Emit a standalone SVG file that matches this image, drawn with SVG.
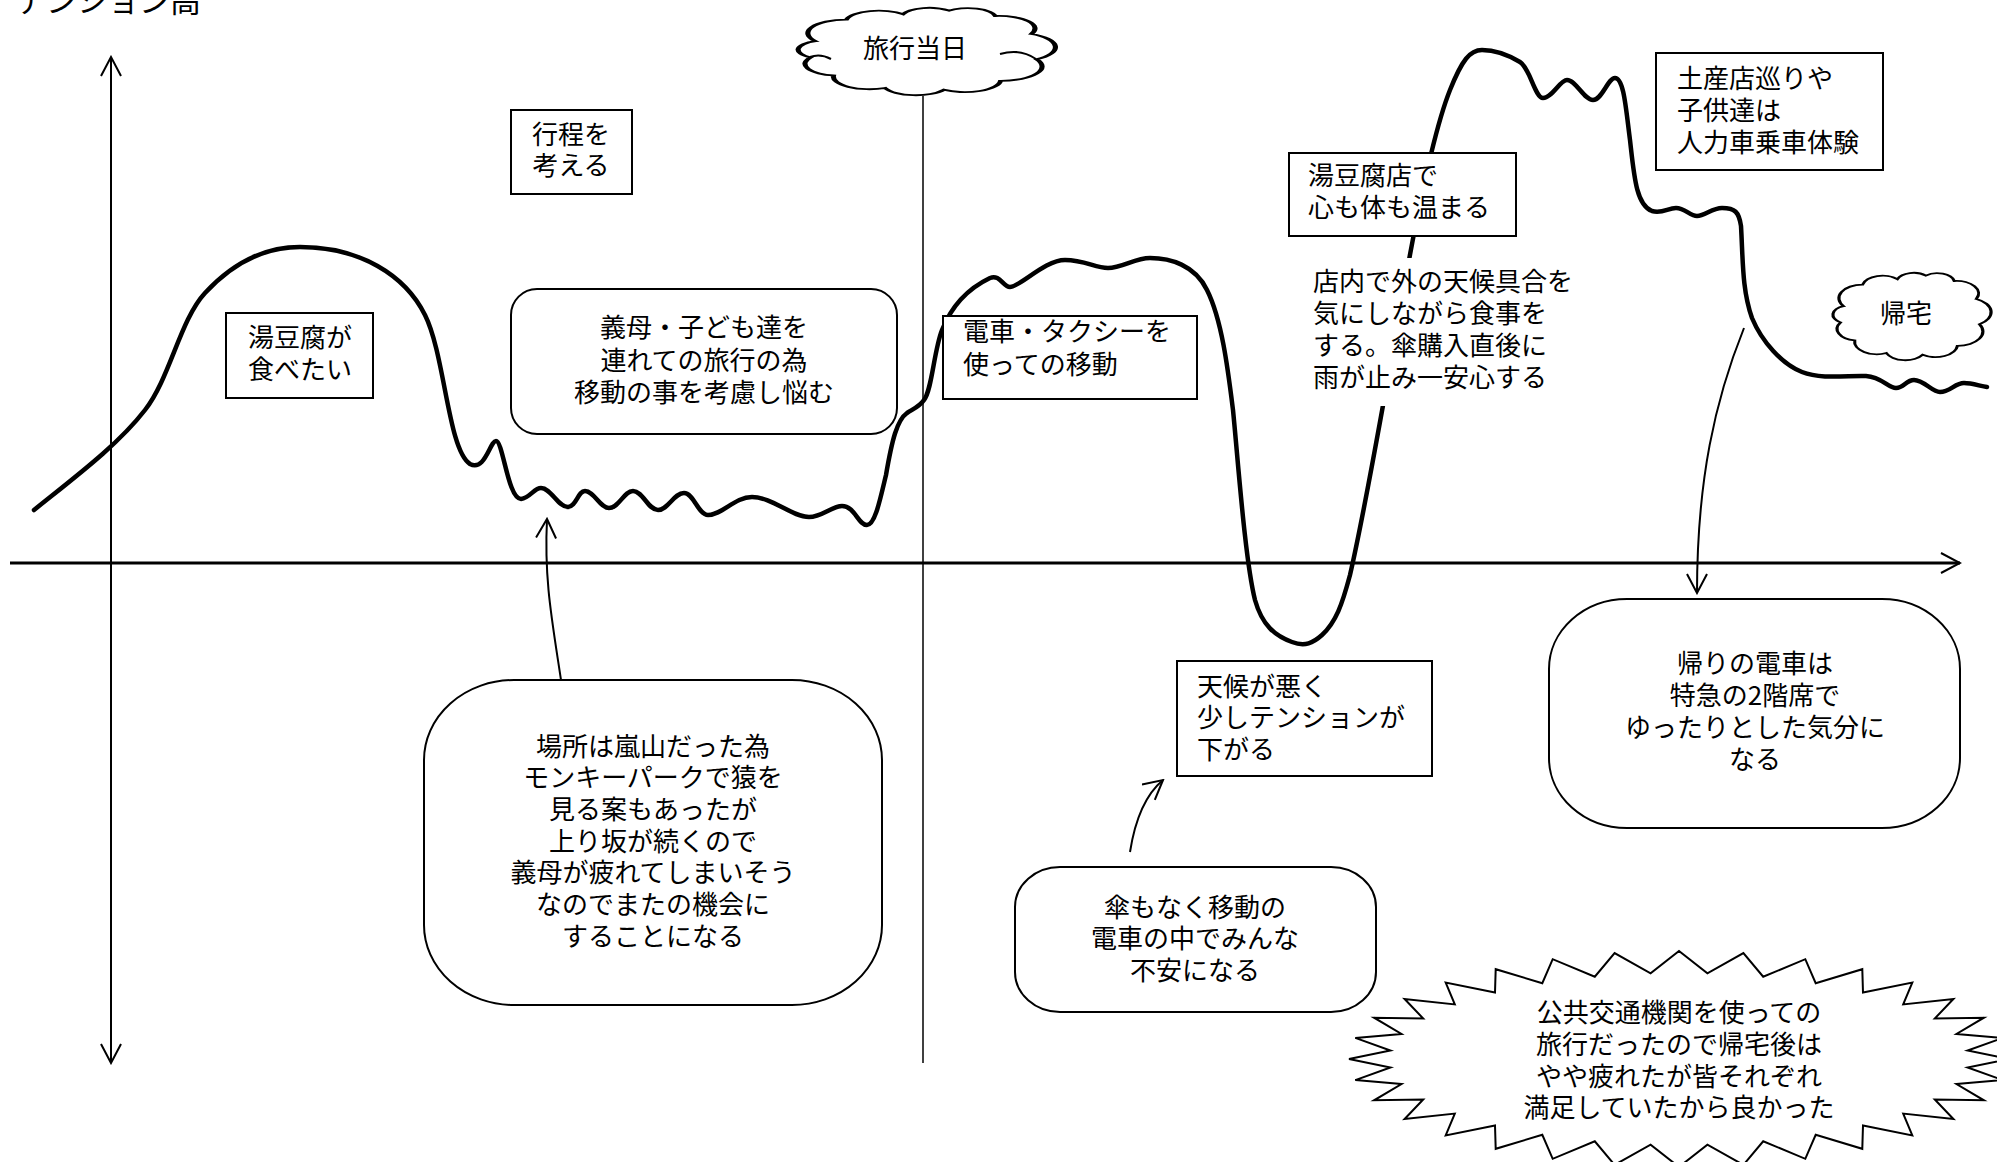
<svg xmlns="http://www.w3.org/2000/svg" width="1997" height="1162" viewBox="0 0 1997 1162">
<style>
.t{font-family:"Noto Sans CJK JP","Noto Sans",sans-serif;font-size:26px;fill:#000}
.c{text-anchor:middle}
.box{fill:#fff;stroke:#000;stroke-width:2}
.curve{fill:none;stroke:#000;stroke-width:4.5;stroke-linecap:round;stroke-linejoin:round}
.thin{fill:none;stroke:#000;stroke-width:2}
.cloud{fill:#fff;stroke:#000;stroke-width:2}
</style>
<defs>
<marker id="arr" viewBox="0 0 22 22" refX="20" refY="11" markerWidth="22" markerHeight="22" markerUnits="userSpaceOnUse" orient="auto-start-reverse">
<path d="M1,1 L20,11 L1,21" fill="none" stroke="#000" stroke-width="2"/>
</marker>
<path id="cloudShape" d="M8 38 A15 15 0 0 1 20 14 A13 13 0 0 1 42 8 A11 11 0 0 1 60 4 A11 11 0 0 1 78 10 A14 14 0 0 1 92 30 A16 16 0 0 1 94 58 A16 16 0 0 1 80 82 A14 14 0 0 1 58 92 A13 13 0 0 1 35 90 A14 14 0 0 1 15 76 A13 13 0 0 1 6 56 A10 10 0 0 1 8 38 Z"/>
</defs>
<rect width="1997" height="1162" fill="#fff"/>

<g id="axes">
<line x1="111" y1="1063" x2="111" y2="57" class="thin" marker-start="url(#arr)" marker-end="url(#arr)"/>
<line x1="10" y1="563" x2="1960" y2="563" fill="none" stroke="#000" stroke-width="3" marker-end="url(#arr)"/>
<line x1="923" y1="96" x2="923" y2="1063" stroke="#000" stroke-width="1.5"/>
<text class="t" x="15" y="12" style="font-size:31px">テンション高</text>
</g>

<g id="tension-curve">
<path class="curve" d="M34 510 C75 477,118 445,145 410 C170 378,180 320,205 293 C230 266,260 247,300 247 C360 247,405 275,425 315 C445 355,448 450,470 464 C485 472,490 441,496 441 C503 441,508 499,521 499 C530 498,534 488,541 488 C551 488,558 507,568 507 C576 507,578 491,585 491 C594 491,600 508,609 508 C619 508,624 491,633 491 C643 491,648 510,658 510 C668 510,674 493,684 493 C694 493,698 515,708 515 C722 515,735 497,752 497 C772 497,792 517,809 517 C822 517,832 506,842 506 C855 506,858 525,867 525 C875 525,880 500,886 475 C892 440,897 420,907 413 C915 408,920 406,924 400 C932 390,934 350,942 330 C950 310,965 290,990 278 C1000 274,1003 287,1010 287 C1020 287,1045 260,1065 260 C1085 260,1095 268,1108 268 C1122 268,1135 258,1150 258 C1170 258,1195 265,1207 290 C1222 320,1228 370,1233 410 C1238 460,1245 560,1255 600 C1262 625,1275 636,1292 642 C1305 647,1313 643,1322 635 C1336 622,1342 605,1350 575 C1365 510,1380 420,1395 340 C1410 250,1430 140,1450 90 C1462 60,1470 50,1482 50 C1495 50,1510 56,1520 62 C1530 68,1535 98,1543 98 C1552 98,1560 80,1567 80 C1576 80,1584 100,1593 100 C1602 100,1608 78,1615 78 C1624 78,1626 110,1630 140 C1634 175,1636 205,1652 211 C1662 214,1668 208,1676 208 C1685 208,1690 216,1697 216 C1705 216,1712 208,1722 208 C1735 208,1739 212,1741 226 C1743 260,1742 290,1752 318 C1762 342,1782 364,1802 372 C1822 380,1850 375,1866 376 C1882 377,1888 388,1896 388 C1904 388,1906 380,1914 380 C1924 380,1932 392,1940 392 C1950 392,1955 383,1964 383 C1972 383,1980 386,1987 387"/>
</g>

<g id="connectors">
<path class="thin" d="M561 680 C552 620,544 580,547 519" marker-end="url(#arr)"/>
<path class="thin" d="M1130 852 C1135 820,1145 795,1163 780" marker-end="url(#arr)"/>
<path class="thin" d="M1744 328 C1715 400,1697 480,1697 593" marker-end="url(#arr)"/>
</g>

<g id="node-ryokou-toujitsu">
<use href="#cloudShape" class="cloud" transform="translate(795,7) scale(2.57,0.9)" style="vector-effect:non-scaling-stroke"/>
<path d="M810 57 Q820 53 831 59 M1036 59 Q1020 48 1000 54" class="thin" stroke-width="1.8"/>
<text class="t c" x="915" y="58">旅行当日</text>
</g>

<g id="node-kitaku">
<use href="#cloudShape" class="cloud" transform="translate(1831,272) scale(1.58,0.9)" style="vector-effect:non-scaling-stroke"/>
<text class="t c" x="1906" y="323">帰宅</text>
</g>

<g id="node-koutei">
<rect class="box" x="511" y="110" width="121" height="84"/>
<text class="t c"><tspan x="571" y="144">行程を</tspan><tspan x="571" y="175">考える</tspan></text>
</g>

<g id="node-yudofu-tabetai">
<rect class="box" x="226" y="313" width="147" height="85"/>
<text class="t c"><tspan x="300" y="347">湯豆腐が</tspan><tspan x="300" y="379">食べたい</tspan></text>
</g>

<g id="node-gibo">
<rect class="box" x="511" y="289" width="386" height="145" rx="26" ry="26"/>
<text class="t c"><tspan x="704" y="337">義母・子ども達を</tspan><tspan x="704" y="370">連れての旅行の為</tspan><tspan x="704" y="402">移動の事を考慮し悩む</tspan></text>
</g>

<g id="node-densha-taxi">
<rect class="box" x="943" y="316" width="254" height="83"/>
<text class="t"><tspan x="963" y="341">電車・タクシーを</tspan><tspan x="963" y="374">使っての移動</tspan></text>
</g>

<g id="node-yudofu-ten">
<rect class="box" x="1289" y="153" width="227" height="83"/>
<text class="t"><tspan x="1308" y="185">湯豆腐店で</tspan><tspan x="1308" y="217">心も体も温まる</tspan></text>
</g>

<g id="node-tennai">
<rect x="1300" y="258" width="290" height="148" fill="#fff"/>
<text class="t"><tspan x="1313" y="291">店内で外の天候具合を</tspan><tspan x="1313" y="323">気にしながら食事を</tspan><tspan x="1313" y="355">する。傘購入直後に</tspan><tspan x="1313" y="387">雨が止み一安心する</tspan></text>
</g>

<g id="node-miyage">
<rect class="box" x="1656" y="53" width="227" height="117"/>
<text class="t"><tspan x="1677" y="88">土産店巡りや</tspan><tspan x="1677" y="120">子供達は</tspan><tspan x="1677" y="152">人力車乗車体験</tspan></text>
</g>

<g id="node-arashiyama">
<rect class="box" x="424" y="680" width="458" height="325" rx="90" ry="80"/>
<text class="t c"><tspan x="653" y="756">場所は嵐山だった為</tspan><tspan x="653" y="787">モンキーパークで猿を</tspan><tspan x="653" y="819">見る案もあったが</tspan><tspan x="653" y="851">上り坂が続くので</tspan><tspan x="653" y="882">義母が疲れてしまいそう</tspan><tspan x="653" y="914">なのでまたの機会に</tspan><tspan x="653" y="946">することになる</tspan></text>
</g>

<g id="node-tenkou">
<rect class="box" x="1177" y="661" width="255" height="115"/>
<text class="t"><tspan x="1197" y="696">天候が悪く</tspan><tspan x="1197" y="727">少しテンションが</tspan><tspan x="1197" y="759">下がる</tspan></text>
</g>

<g id="node-kasa">
<rect class="box" x="1015" y="867" width="361" height="145" rx="45" ry="40"/>
<text class="t c"><tspan x="1195" y="917">傘もなく移動の</tspan><tspan x="1195" y="948">電車の中でみんな</tspan><tspan x="1195" y="980">不安になる</tspan></text>
</g>

<g id="node-kaeri">
<rect class="box" x="1549" y="599" width="411" height="229" rx="78" ry="70"/>
<text class="t c"><tspan x="1755" y="673">帰りの電車は</tspan><tspan x="1755" y="705">特急の2階席で</tspan><tspan x="1755" y="737">ゆったりとした気分に</tspan><tspan x="1755" y="769">なる</tspan></text>
</g>

<g id="node-summary">
<polygon class="box" transform="translate(0,-4)" points="2009,1063 1967.6,1054.6 2002.7,1041.9 1956.5,1038 1983.9,1021.7 1934.8,1022.5 1953.4,1003 1903.2,1008.4 1912.3,986.6 1863,996.5 1862.3,973.2 1815.7,987.2 1805.3,963.2 1763.2,980.7 1743.4,957.1 1707.4,977.4 1679,955 1650.6,977.4 1614.6,957.1 1594.8,980.7 1552.7,963.2 1542.3,987.2 1495.7,973.2 1495,996.5 1445.7,986.6 1454.8,1008.4 1404.6,1003 1423.2,1022.5 1374.1,1021.7 1401.5,1038 1355.3,1041.9 1390.4,1054.6 1349,1063 1390.4,1071.4 1355.3,1084.1 1401.5,1088 1374.1,1104.3 1423.2,1103.5 1404.6,1123 1454.8,1117.6 1445.7,1139.4 1495,1129.5 1495.7,1152.8 1542.3,1138.8 1552.7,1162.8 1594.8,1145.3 1614.6,1168.9 1650.6,1148.6 1679,1171 1707.4,1148.6 1743.4,1168.9 1763.2,1145.3 1805.3,1162.8 1815.7,1138.8 1862.3,1152.8 1863,1129.5 1912.3,1139.4 1903.2,1117.6 1953.4,1123 1934.8,1103.5 1983.9,1104.3 1956.5,1088 2002.7,1084.1 1967.6,1071.4"/>
<text class="t c"><tspan x="1679" y="1022">公共交通機関を使っての</tspan><tspan x="1679" y="1054">旅行だったので帰宅後は</tspan><tspan x="1679" y="1086">やや疲れたが皆それぞれ</tspan><tspan x="1679" y="1117">満足していたから良かった</tspan></text>
</g>
</svg>
